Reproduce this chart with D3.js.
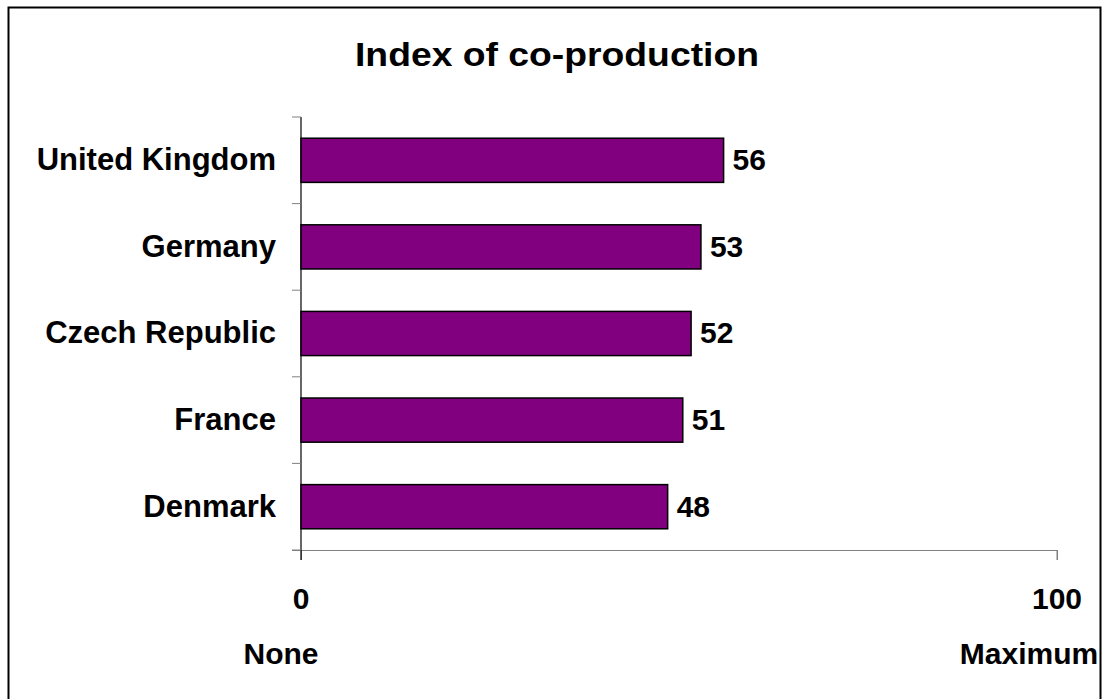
<!DOCTYPE html>
<html><head><meta charset="utf-8">
<script src="https://cdn.jsdelivr.net/npm/d3@7"></script>
<style>body{margin:0;background:#fff}svg{display:block}text{font-family:"Liberation Sans",Arial,sans-serif;font-weight:bold;fill:#000}</style>
</head><body>
<svg id="c" width="1102" height="699"></svg>
<script>
const categories = ["United Kingdom","Germany","Czech Republic","France","Denmark"];
const values = [55.9, 52.9, 51.6, 50.5, 48.5];
const valueLabels = ["56","53","52","51","48"];
const xTicks = [0, 100];
const xTickLabels = ["0","100"];
const xEndLabels = ["None","Maximum"];
const title = "Index of co-production";

const svg = d3.select("#c");
svg.append("rect").attr("x",8.5).attr("y",7.5).attr("width",1092).attr("height",720)
  .attr("fill","#fff").attr("stroke","#000").attr("stroke-width",2);

const x = d3.scaleLinear().domain([0,100]).range([301,1057]);
const y = d3.scaleBand().domain(categories).range([117,550]).paddingInner(0.49).paddingOuter(0.245);

svg.append("text").attr("x",557).attr("y",66).attr("text-anchor","middle")
  .style("font-size","33px").attr("textLength",404).attr("lengthAdjust","spacingAndGlyphs").text(title);

// x axis
const xg = svg.append("g").attr("transform","translate(0,550)")
  .call(d3.axisBottom(x).tickValues(xTicks).tickSize(10).tickFormat(""));
xg.select(".domain").attr("stroke","#808080").attr("d","M292,0.5H1057V10");
xg.selectAll(".tick line").attr("stroke","#808080");

// y axis
const yb = d3.scaleBand().domain(categories).range([117,550]);
const yg = svg.append("g").attr("transform","translate(301,0)");
yg.append("line").attr("x1",0).attr("x2",0).attr("y1",117).attr("y2",560).attr("stroke","#000").attr("stroke-width",1.2);
const tickYs = categories.map(c=>yb(c)).concat([550]);
yg.selectAll("line.t").data(tickYs).join("line").attr("class","t")
  .attr("x1",-9).attr("x2",0).attr("y1",d=>d).attr("y2",d=>d).attr("stroke","#808080");

// category labels
svg.selectAll("text.cat").data(categories).join("text").attr("class","cat")
  .attr("x",276).attr("y",d=>y(d)+y.bandwidth()/2).attr("dy","0.32em")
  .attr("text-anchor","end").style("font-size","31px").text(d=>d);

// bars
svg.selectAll("rect.bar").data(values).join("rect").attr("class","bar")
  .attr("x",x(0)).attr("y",(d,i)=>y(categories[i])).attr("width",d=>x(d)-x(0))
  .attr("height",y.bandwidth()).attr("fill","#800080").attr("stroke","#000").attr("stroke-width",1.5);

svg.selectAll("text.val").data(values).join("text").attr("class","val")
  .attr("x",d=>x(d)+9).attr("y",(d,i)=>y(categories[i])+y.bandwidth()/2).attr("dy","0.33em")
  .style("font-size","30px").text((d,i)=>valueLabels[i]);

// x tick labels
svg.selectAll("text.xt").data(xTicks).join("text").attr("class","xt")
  .attr("x",d=>x(d)).attr("y",609).attr("text-anchor","middle").style("font-size","30px")
  .text((d,i)=>xTickLabels[i]);
svg.selectAll("text.xe").data(xTicks).join("text").attr("class","xe")
  .attr("x",(d,i)=>i===0?x(d)-20:x(d)-28).attr("y",664).attr("text-anchor","middle").style("font-size","30px")
  .text((d,i)=>xEndLabels[i]);
</script>
</body></html>
